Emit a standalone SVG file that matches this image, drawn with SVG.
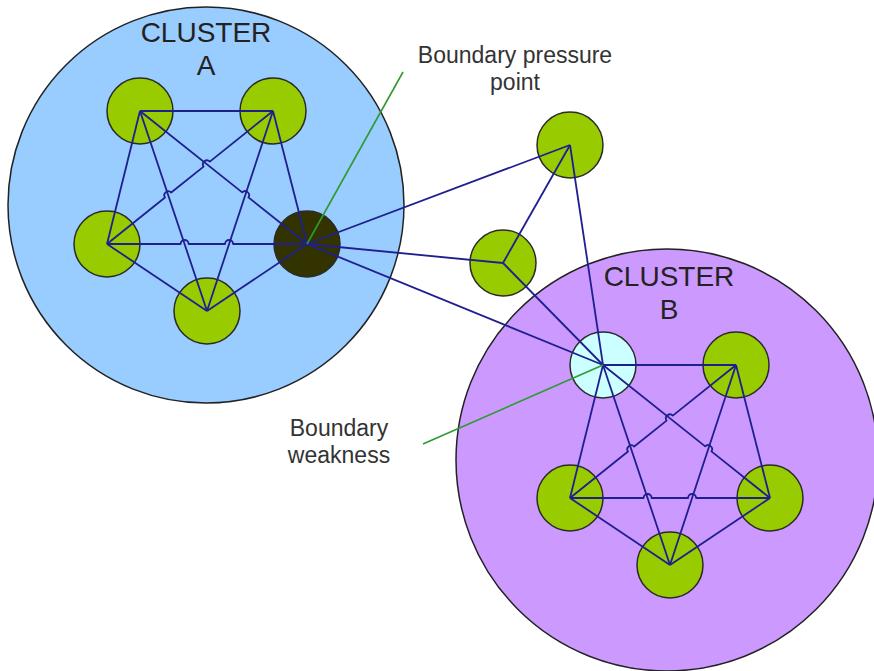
<svg xmlns="http://www.w3.org/2000/svg" xmlns:xlink="http://www.w3.org/1999/xlink" width="874" height="671" viewBox="0 0 874 671">
  <style>
    .cluster { stroke: #222; stroke-width: 1.5; }
    .node { stroke: #2a2a2a; stroke-width: 1.5; }
    .green { fill: #99cc00; }
    .link { fill: none; stroke: #1f1f8f; stroke-width: 1.8; stroke-linejoin: round; }
    .callout { fill: none; stroke: #2f9a2f; stroke-width: 1.6; }
    .title { font-family: "Liberation Sans", Arial, sans-serif; font-size: 28px; fill: #222; text-anchor: middle; }
    .label { font-family: "Liberation Sans", Arial, sans-serif; font-size: 23px; fill: #333; text-anchor: middle; }
  </style>
  <defs>
    <!-- fully connected five-node mesh, with line jumps where links cross -->
    <g id="mesh">
      <path class="link" d="M140,111 L273,111"/>
      <path class="link" d="M273,111 L307,244"/>
      <path class="link" d="M307,244 L207,311"/>
      <path class="link" d="M207,311 L107,244"/>
      <path class="link" d="M107,244 L140,111"/>
      <path class="link" d="M140,111 L242.2,192.4 A4,4 0 0 1 248.4,197.4 L307,244"/>
      <path class="link" d="M140,111 L207,311"/>
      <path class="link" d="M107,244 L165,197.5 A4,4 0 0 1 171.2,192.5 L203.6,166.6 A4,4 0 0 1 209.8,161.6 L273,111"/>
      <path class="link" d="M273,111 L207,311"/>
      <path class="link" d="M107,244 L180.6,244 A4,4 0 0 1 188.6,244 L225.1,244 A4,4 0 0 1 233.1,244 L307,244"/>
    </g>
  </defs>

  <!-- clusters -->
  <g id="cluster-a">
    <circle class="cluster" cx="206" cy="205" r="198" fill="#99ccff"/>
    <text class="title" x="206" y="42">CLUSTER</text>
    <text class="title" x="206" y="75">A</text>
  </g>
  <g id="cluster-b">
    <circle class="cluster" cx="667" cy="460" r="211" fill="#cc99ff"/>
    <text class="title" x="669" y="286">CLUSTER</text>
    <text class="title" x="669" y="319">B</text>
  </g>

  <!-- nodes of cluster A -->
  <g id="a-top-left"><circle class="node green" cx="140" cy="111" r="33"/></g>
  <g id="a-top-right"><circle class="node green" cx="273" cy="111" r="33"/></g>
  <g id="a-left"><circle class="node green" cx="107" cy="244" r="33"/></g>
  <g id="a-pressure-point"><circle class="node" cx="307" cy="244" r="33" fill="#333300"/></g>
  <g id="a-bottom"><circle class="node green" cx="207" cy="311" r="33"/></g>

  <!-- nodes between the clusters -->
  <g id="outer-upper"><circle class="node green" cx="570" cy="145" r="33"/></g>
  <g id="outer-lower"><circle class="node green" cx="503" cy="263" r="33"/></g>

  <!-- nodes of cluster B -->
  <g id="b-weakness"><circle class="node" cx="603" cy="365" r="33" fill="#ccffff"/></g>
  <g id="b-top-right"><circle class="node green" cx="736" cy="365" r="33"/></g>
  <g id="b-left"><circle class="node green" cx="570" cy="498" r="33"/></g>
  <g id="b-right"><circle class="node green" cx="770" cy="498" r="33"/></g>
  <g id="b-bottom"><circle class="node green" cx="670" cy="565" r="33"/></g>

  <!-- connectors -->
  <g id="connectors">
    <use xlink:href="#mesh"/>
    <use xlink:href="#mesh" transform="translate(463,254)"/>
    <path class="link" d="M307,244 L570,145"/>
    <path class="link" d="M307,244 L503,263"/>
    <path class="link" d="M307,244 L603,365"/>
    <path class="link" d="M570,145 L503,263"/>
    <path class="link" d="M570,145 L603,365"/>
    <path class="link" d="M503,263 L603,365"/>
    <path class="callout" d="M307,244 L403,72"/>
    <path class="callout" d="M603,365 L423,444"/>
  </g>

  <!-- callout labels -->
  <g id="label-pressure">
    <text class="label" x="515" y="63">Boundary pressure</text>
    <text class="label" x="515" y="90">point</text>
  </g>
  <g id="label-weakness">
    <text class="label" x="339" y="436">Boundary</text>
    <text class="label" x="339" y="463">weakness</text>
  </g>
</svg>
